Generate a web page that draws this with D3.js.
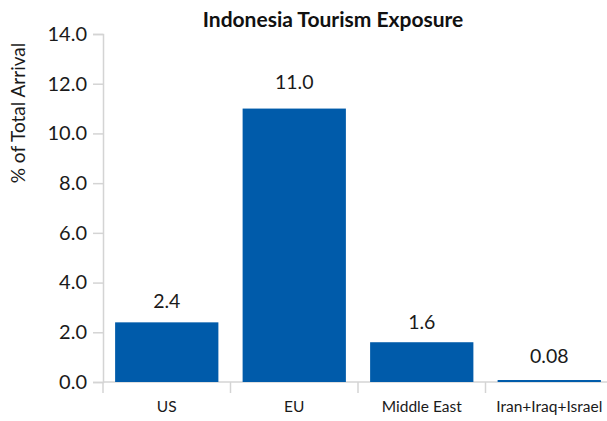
<!DOCTYPE html>
<html>
<head>
<meta charset="utf-8">
<script src="https://cdn.jsdelivr.net/npm/d3@7"></script>
<style>
  html, body { margin: 0; padding: 0; background: #fff; }
  svg { display: block; font-family: Lato, "Noto Sans", sans-serif; }
</style>
</head>
<body>
<svg id="chart" width="607" height="421"></svg>
<script>
const categories = ["US", "EU", "Middle East", "Iran+Iraq+Israel"];
const values = [2.4, 11.0, 1.6, 0.08];
const valueLabels = ["2.4", "11.0", "1.6", "0.08"];
const yTicks = [0, 2, 4, 6, 8, 10, 12, 14];

const svg = d3.select("#chart");
const margin = { top: 34, right: -6, bottom: 39, left: 103 };
const width = 607 - margin.left - margin.right;
const height = 421 - margin.top - margin.bottom;

const g = svg.append("g").attr("transform", `translate(${margin.left},${margin.top})`);

const x = d3.scaleBand().domain(categories).range([0, width]).paddingInner(0.19).paddingOuter(0.095);
const y = d3.scaleLinear().domain([0, 14]).range([height, 0]);

// Y axis
const yAxis = g.append("g")
  .call(d3.axisLeft(y).tickValues(yTicks).tickFormat(d3.format(".1f")).tickSize(10).tickPadding(6));
yAxis.selectAll("path, line").attr("stroke", "#d4d4d4").attr("stroke-width", 1.5);
yAxis.selectAll("text").attr("font-size", 20).attr("fill", "#1a1a1a").attr("font-family", "Lato");

// X axis with ticks at category boundaries
const xAxisG = g.append("g").attr("transform", `translate(0,${height})`);
xAxisG.append("line").attr("x1", 0).attr("x2", width).attr("stroke", "#d4d4d4").attr("stroke-width", 1.5);
const edgeX = d3.range(categories.length + 1).map(i => i * x.step());
xAxisG.selectAll("line.tick").data(edgeX).join("line")
  .attr("class", "tick")
  .attr("x1", d => d).attr("x2", d => d)
  .attr("y1", 0).attr("y2", 11)
  .attr("stroke", "#d4d4d4").attr("stroke-width", 1.5);
xAxisG.selectAll("text").data(categories).join("text")
  .attr("x", d => x(d) + x.bandwidth() / 2)
  .attr("y", 30)
  .attr("text-anchor", "middle")
  .attr("font-size", 15.5)
  .attr("fill", "#1a1a1a")
  .text(d => d);

// Bars
g.selectAll("rect.bar").data(values).join("rect")
  .attr("class", "bar")
  .attr("x", (d, i) => x(categories[i]))
  .attr("width", x.bandwidth())
  .attr("y", d => y(d))
  .attr("height", d => y(0) - y(d))
  .attr("fill", "#005BAA");

// Value labels, kept clear of very short bars
g.selectAll("text.val").data(values).join("text")
  .attr("class", "val")
  .attr("x", (d, i) => x(categories[i]) + x.bandwidth() / 2)
  .attr("y", d => Math.min(y(d * 1.025) - 12.5, y(0) - 19))
  .attr("text-anchor", "middle")
  .attr("font-size", 19.5)
  .attr("fill", "#1a1a1a")
  .text((d, i) => valueLabels[i]);

// Title
svg.append("text")
  .attr("x", 333).attr("y", 27)
  .attr("text-anchor", "middle")
  .attr("font-size", 21)
  .attr("font-weight", "bold")
  .attr("fill", "#111")
  .text("Indonesia Tourism Exposure");

// Y axis title
svg.append("text")
  .attr("transform", "translate(25,113) rotate(-90)")
  .attr("text-anchor", "middle")
  .attr("font-size", 19)
  .attr("fill", "#1a1a1a")
  .text("% of Total Arrival");
</script>
</body>
</html>
